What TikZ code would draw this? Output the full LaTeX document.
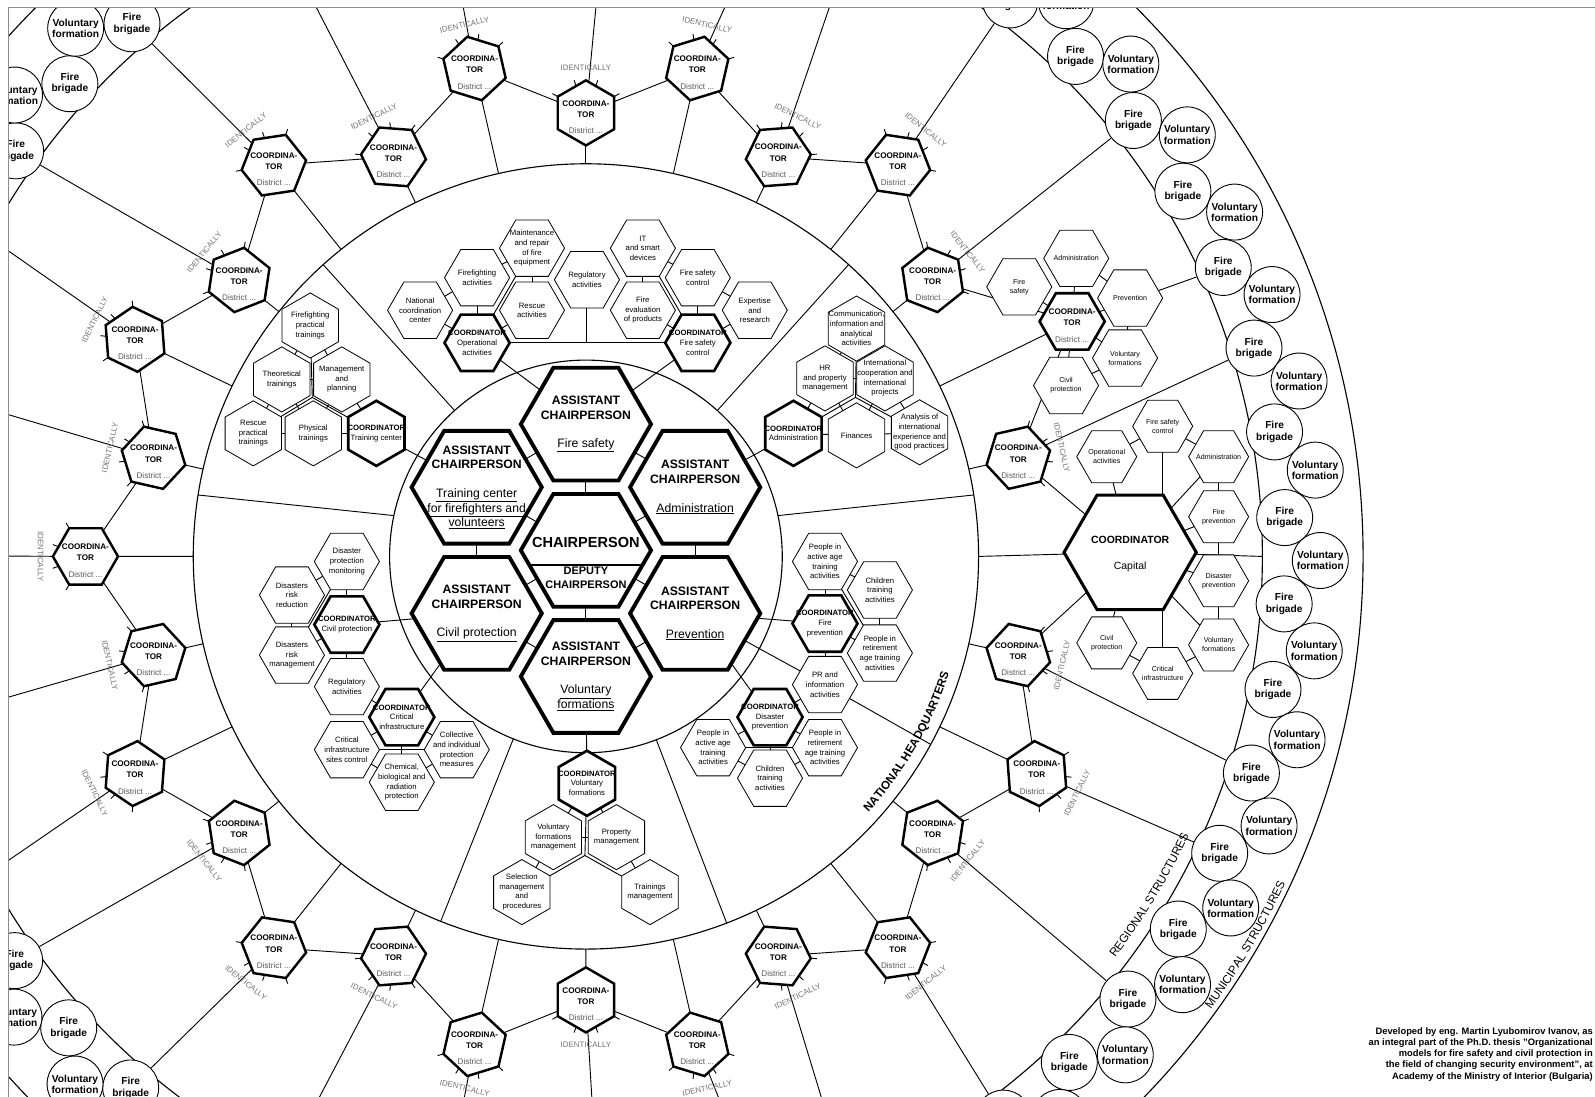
\documentclass[tikz,border=0pt]{standalone}
\usepackage{fontspec}
\setmainfont{Liberation Sans}
\usetikzlibrary{shapes.geometric,backgrounds,calc,decorations.text}

\definecolor{districtgray}{gray}{0.35}
\definecolor{identgray}{gray}{0.45}
\definecolor{framegray}{gray}{0.55}

\tikzset{
  hexa/.style={regular polygon, regular polygon sides=6, draw, fill=white,
    inner sep=0pt, outer sep=0pt},
  bighex/.style={hexa, minimum size=128pt, line width=3.8pt},
  subhex/.style={hexa, minimum size=64pt, line width=0.8pt},
  cordhex/.style={hexa, minimum size=64pt, line width=2.6pt},
  disthex/.style={hexa, minimum size=64pt, line width=2.4pt},
  caphex/.style={hexa, minimum size=59pt, line width=0.8pt},
  pointy/.style={shape border rotate=30},
  bigtxt/.style={font=\fontsize{12}{14.2}\selectfont, align=center},
  subtxt/.style={font=\fontsize{7.6}{9.5}\selectfont, align=center},
  captxt/.style={font=\fontsize{7}{8.8}\selectfont, align=center},
  disttxt/.style={font=\fontsize{8}{11}\selectfont, align=center},
  identtxt/.style={font=\fontsize{7.8}{8}\selectfont, text=identgray, inner sep=0pt},
  munic/.style={circle, draw, fill=white, minimum size=55pt, inner sep=0pt,
    line width=0.9pt, align=center, font=\bfseries\fontsize{10}{11}\selectfont},
  link/.style={line width=0.9pt},
  ring/.style={line width=1.1pt},
}

\begin{document}
\begin{tikzpicture}[x=1pt,y=1pt]
\useasboundingbox (0,0) rectangle (1568,-1078);
\coordinate (C0) at (576,-547);
\coordinate (CH) at (576,-541);

\begin{scope}
\clip (8,-7) rectangle (1568,-1078);

% municipal structures
\foreach \n in {0,...,50} {
  \pgfmathsetmacro\a{-88.73+7.07*\n}
  \node[munic] (fb\n) at ($(C0)+(\a:688)$) {Fire\\brigade};
}
\foreach \n in {0,...,50} {
  \pgfmathsetmacro\a{-92.23+7.07*\n}
  \node[munic] (vf\n) at ($(C0)+(\a:722)$) {Voluntary\\formation};
}

% chairperson and assistants
\node[bighex] (CHR) at (CH) {};
\node[font=\bfseries\fontsize{14.3}{15}\selectfont] (CHRt) at (576,-533) {CHAIRPERSON};
\node[font=\bfseries\fontsize{10.8}{13}\selectfont, align=center] (DEPt) at (576,-568) {DEPUTY\\CHAIRPERSON};
\draw[line width=1.2pt] ($(CHR)+(-55.7,-14.5)$) -- ($(CHR)+(55.7,-14.5)$);
\node[bighex, label={[bigtxt]center:{\textbf{ASSISTANT}\\\textbf{CHAIRPERSON}\\[14pt]\underline{Fire safety}}}] (AFS) at ($(CH)+(90:124)$) {};
\node[bighex, label={[bigtxt]center:{\textbf{ASSISTANT}\\\textbf{CHAIRPERSON}\\[14pt]\underline{Administration}}}] (AADM) at ($(CH)+(30:124)$) {};
\node[bighex, label={[bigtxt]center:{\textbf{ASSISTANT}\\\textbf{CHAIRPERSON}\\[14pt]\underline{Prevention}}}] (APRV) at ($(CH)+(-30:124)$) {};
\node[bighex, label={[bigtxt]center:{\textbf{ASSISTANT}\\\textbf{CHAIRPERSON}\\[14pt]\underline{Voluntary}\\\underline{formations}}}] (AVOL) at ($(CH)+(-90:124)$) {};
\node[bighex, label={[bigtxt]center:{\textbf{ASSISTANT}\\\textbf{CHAIRPERSON}\\[14pt]\underline{Civil protection}}}] (ACIV) at ($(CH)+(210:124)$) {};
\node[bighex, label={[bigtxt]center:{\textbf{ASSISTANT}\\\textbf{CHAIRPERSON}\\[14pt]\underline{Training center}\\\underline{for firefighters and}\\\underline{volunteers}}}] (ATRN) at ($(CH)+(150:124)$) {};

% fire safety sector
\node[subhex, label={[subtxt]center:{National\\coordination\\center}}] (NCC) at (413,-305) {};
\node[subhex, label={[subtxt]center:{Firefighting\\activities}}] (FFA) at (469,-273) {};
\node[subhex, label={[subtxt]center:{Maintenance\\and repair\\of fire\\equipment}}] (MRE) at (523,-244) {};
\node[subhex, label={[subtxt]center:{Rescue\\activities}}] (RSA) at (523,-305) {};
\node[subhex, label={[subtxt]center:{Regulatory\\activities}}] (RGA) at (577,-275) {};
\node[subhex, label={[subtxt]center:{IT\\and smart\\devices}}] (ITS) at (632,-244) {};
\node[subhex, label={[subtxt]center:{Fire\\evaluation\\of products}}] (FEP) at (632,-305) {};
\node[subhex, label={[subtxt]center:{Fire safety\\control}}] (FSC) at (686,-273) {};
\node[subhex, label={[subtxt]center:{Expertise\\and\\research}}] (EXR) at (742,-305) {};
\node[cordhex, label={[subtxt]center:{\textbf{COORDINATOR}\\Operational\\activities}}] (COP) at (469,-337) {};
\node[cordhex, label={[subtxt]center:{\textbf{COORDINATOR}\\Fire safety\\control}}] (CFS) at (686,-337) {};

% training sector
\node[subhex, pointy, label={[subtxt]center:{Firefighting\\practical\\trainings}}] (FPT) at (305,-320) {};
\node[subhex, pointy, label={[subtxt]center:{Theoretical\\trainings}}] (THT) at (277,-373) {};
\node[subhex, pointy, label={[subtxt]center:{Management\\and\\planning}}] (MPL) at (336,-373) {};
\node[subhex, pointy, label={[subtxt]center:{Rescue\\practical\\trainings}}] (RPT) at (249,-426) {};
\node[subhex, pointy, label={[subtxt]center:{Physical\\trainings}}] (PHT) at (308,-426) {};
\node[cordhex, pointy, label={[subtxt]center:{\textbf{COORDINATOR}\\Training center}}] (CTR) at (370,-426) {};

% administration sector
\node[subhex, pointy, label={[subtxt]center:{Communication,\\information and\\analytical\\activities}}] (CIA) at (842,-323) {};
\node[subhex, pointy, label={[subtxt]center:{HR\\and property\\management}}] (HRM) at (811,-372) {};
\node[subhex, pointy, label={[subtxt]center:{International\\cooperation and\\international\\projects}}] (ICP) at (870,-372) {};
\node[cordhex, pointy, label={[subtxt]center:{\textbf{COORDINATOR}\\Administration}}] (CADM) at (780,-426) {};
\node[subhex, pointy, label={[subtxt]center:{Finances}}] (FIN) at (842,-428) {};
\node[subhex, pointy, label={[subtxt]center:{Analysis of\\international\\experience and\\good practices}}] (AIE) at (904,-425) {};

% civil protection sector
\node[subhex, label={[subtxt]center:{Disaster\\protection\\monitoring}}] (DPM) at (341,-552) {};
\node[subhex, label={[subtxt]center:{Disasters\\risk\\reduction}}] (DRR) at (287,-585) {};
\node[cordhex, label={[subtxt]center:{\textbf{COORDINATOR}\\Civil protection}}] (CCIV) at (341,-614) {};
\node[subhex, label={[subtxt]center:{Disasters\\risk\\management}}] (DRM) at (287,-644) {};
\node[subhex, label={[subtxt]center:{Regulatory\\activities}}] (RGC) at (341,-675) {};
\node[cordhex, label={[subtxt]center:{\textbf{COORDINATOR}\\Critical\\infrastructure}}] (CCRI) at (395,-705) {};
\node[subhex, label={[subtxt]center:{Critical\\infrastructure\\sites control}}] (CIS) at (341,-737) {};
\node[subhex, label={[subtxt]center:{Collective\\and individual\\protection\\measures}}] (CIP) at (449,-737) {};
\node[subhex, label={[subtxt]center:{Chemical,\\biological and\\radiation\\protection}}] (CBR) at (395,-769) {};

% prevention sector
\node[subhex, label={[subtxt]center:{People in\\active age\\training\\activities}}] (PAA) at (811,-552) {};
\node[subhex, label={[subtxt]center:{Children\\training\\activities}}] (CTA) at (865,-580) {};
\node[cordhex, label={[subtxt]center:{\textbf{COORDINATOR}\\Fire\\prevention}}] (CFPR) at (811,-613) {};
\node[subhex, label={[subtxt]center:{People in\\retirement\\age training\\activities}}] (PRA) at (865,-642) {};
\node[subhex, label={[subtxt]center:{PR and\\information\\activities}}] (PRI) at (811,-673) {};
\node[cordhex, label={[subtxt]center:{\textbf{COORDINATOR}\\Disaster\\prevention}}] (CDPR) at (757,-705) {};
\node[subhex, label={[subtxt]center:{People in\\active age\\training\\activities}}] (PAB) at (701,-735) {};
\node[subhex, label={[subtxt]center:{People in\\retirement\\age training\\activities}}] (PRB) at (811,-735) {};
\node[subhex, label={[subtxt]center:{Children\\training\\activities}}] (CTB) at (757,-765) {};

% voluntary formations sector
\node[cordhex, pointy, label={[subtxt]center:{\textbf{COORDINATOR}\\Voluntary\\formations}}] (CVOL) at (577,-770) {};
\node[subhex, pointy, label={[subtxt]center:{Voluntary\\formations\\management}}] (VFM) at (544,-823) {};
\node[subhex, pointy, label={[subtxt]center:{Property\\management}}] (PRM) at (606,-823) {};
\node[subhex, pointy, label={[subtxt]center:{Selection\\management\\and\\procedures}}] (SMP) at (513,-877) {};
\node[subhex, pointy, label={[subtxt]center:{Trainings\\management}}] (TRM) at (639,-877) {};

% district coordinators
\foreach \k in {0,...,27} {
  \pgfmathsetmacro\a{90-12.857*\k}
  \pgfmathsetmacro\r{mod(\k,2)==1 ? 492 : 436}
  \coordinate (S\k) at ($(C0)+(\a:386)$);
  \ifnum\k=5 \else \ifnum\k=7 \else
    \node[disthex, shape border rotate=\a, label={[disttxt,yshift=-4pt]center:{\textbf{COORDINA-}\\\textbf{TOR}\\[5pt]\textcolor{districtgray}{District ...}}}] (D\k) at ($(C0)+(\a:\r)$) {};
    \foreach \t in {-60,-20,20,60} {
      \pgfmathtruncatemacro\b{mod(round(\a+\t)+720,360)}
      \draw[line width=0.9pt] (D\k.\b) -- ++(\b:6);
    }
    \pgfmathsetmacro\ri{\r+44}
    \pgfmathsetmacro\rot{sin(\a)>0.01 ? \a-90 : \a+90}
    \node[identtxt, rotate=\rot] (I\k) at ($(C0)+(\a:\ri)$) {IDENTICALLY};
  \fi\fi
}

% district with its structure
\node[cordhex, label={[disttxt,yshift=-4pt]center:{\textbf{COORDINA-}\\\textbf{TOR}\\[5pt]\textcolor{districtgray}{District ...}}}] (D5) at (1054,-316) {};
\node[subhex, label={[captxt]center:{Administration}}] (UAD) at (1058,-254) {};
\node[subhex, label={[captxt]center:{Fire\\safety}}] (UFS) at (1002,-282) {};
\node[subhex, label={[captxt]center:{Prevention}}] (UPV) at (1111,-293) {};
\node[subhex, label={[captxt]center:{Voluntary\\formations}}] (UVF) at (1106,-352) {};
\node[subhex, label={[captxt]center:{Civil\\protection}}] (UCP) at (1048,-379) {};

% capital
\node[hexa, minimum size=130pt, line width=3pt, label={[font=\fontsize{10.3}{13.5}\selectfont, align=center, yshift=-2pt]center:{\textbf{COORDINATOR}\\[12pt]Capital}}] (D7) at (1111,-543) {};
\node[caphex, label={[captxt]center:{Operational\\activities}}] (COA) at (1088,-449) {};
\node[caphex, label={[captxt]center:{Fire safety\\control}}] (CFSC) at (1143,-419) {};
\node[caphex, label={[captxt]center:{Administration}}] (CADM2) at (1198,-449) {};
\node[caphex, label={[captxt]center:{Fire\\prevention}}] (CFP2) at (1198,-508) {};
\node[caphex, label={[captxt]center:{Disaster\\prevention}}] (CDP2) at (1198,-571) {};
\node[caphex, label={[captxt]center:{Voluntary\\formations}}] (CVF2) at (1198,-634) {};
\node[caphex, label={[captxt]center:{Critical\\infrastructure}}] (CCI2) at (1143,-662) {};
\node[caphex, label={[captxt]center:{Civil\\protection}}] (CCP2) at (1088,-632) {};

% ring titles
\path[decorate, decoration={text along path, text align=center,
  text={|\bfseries\fontsize{11.5}{12}\selectfont|NATIONAL HEADQUARTERS}}]
  ($(C0)+(-46:375)$) arc[start angle=-46, end angle=-14, radius=375];
\path[decorate, decoration={text along path, text align=center,
  text={|\fontsize{11.5}{12}\selectfont|REGIONAL STRUCTURES}}]
  ($(C0)+(-42:653)$) arc[start angle=-42, end angle=-20, radius=653];
\path[decorate, decoration={text along path, text align=center,
  text={|\fontsize{11.5}{12}\selectfont|MUNICIPAL STRUCTURES}}]
  ($(C0)+(-41:759)$) arc[start angle=-41, end angle=-20, radius=759];
\end{scope}

\begin{pgfonlayer}{background}
\begin{scope}
\clip (8,-7) rectangle (1568,-1078);
\foreach \rr in {193,386,665,764} \draw[ring] (C0) circle[radius=\rr];
% sector lines of the national ring
\foreach \a/\b in {132/132,48/48,168/171,12/9,-69/-69,-111.7/-111.7}
  \draw[link] ($(C0)+(\a:193)$) -- ($(C0)+(\b:386)$);
\draw[link] (PRI) -- ($(C0)+(-28.6:386)$);
% core
\foreach \p/\q in {CHR/AFS,CHR/AADM,CHR/APRV,CHR/AVOL,CHR/ACIV,CHR/ATRN,
  AFS/AADM,AADM/APRV,APRV/AVOL,AVOL/ACIV,ACIV/ATRN,ATRN/AFS,
  AFS/COP,AFS/CFS,ATRN/CTR,AADM/CADM,ACIV/CCIV,ACIV/CCRI,
  APRV/CFPR,APRV/PRI,APRV/CDPR,AVOL/CVOL}
  \draw[link] (\p) -- (\q);
% sectors
\foreach \p/\q in {NCC/FFA,NCC/COP,FFA/COP,FFA/MRE,MRE/RSA,RSA/COP,MRE/COP,
  EXR/FSC,EXR/CFS,FSC/CFS,FSC/ITS,ITS/FEP,FEP/CFS,ITS/CFS,COP/CFS,
  FPT/THT,FPT/MPL,THT/MPL,THT/RPT,THT/PHT,MPL/PHT,MPL/CTR,RPT/PHT,PHT/CTR,
  CIA/HRM,CIA/ICP,HRM/ICP,HRM/CADM,HRM/FIN,ICP/FIN,ICP/AIE,CADM/FIN,FIN/AIE,
  DPM/DRR,DPM/CCIV,DRR/DRM,DRM/CCIV,CCIV/RGC,RGC/CCRI,CCRI/CIS,CCRI/CIP,
  CCRI/CBR,CIS/CBR,CBR/CIP,DPM/DRM,CIS/CIP,
  PAA/CTA,PAA/CFPR,CTA/PRA,CFPR/PRA,CFPR/PRI,PRI/CDPR,CDPR/PAB,CDPR/PRB,
  CDPR/CTB,PAB/CTB,PRB/CTB,PAA/PRA,PAB/PRB,
  CVOL/VFM,CVOL/PRM,VFM/PRM,VFM/SMP,PRM/TRM}
  \draw[link] (\p) -- (\q);
\draw[link] (RGA) -- (RGA |- COP);
\coordinate (J1) at (307,-390.7);
\coordinate (J2) at (841,-390.7);
\coordinate (J3) at (575,-841);
\draw[link] (FPT) -- (J1) -- (CTR);
\draw[link] (J1) -- (RPT);
\draw[link] (CIA) -- (J2) -- (CADM);
\draw[link] (J2) -- (AIE);
\draw[link] (CVOL) -- (J3) -- (SMP);
\draw[link] (J3) -- (TRM);
% regional structures
\foreach \p/\q in {D7/COA,COA/CFSC,CFSC/CADM2,CADM2/D7,CADM2/CFP2,CFP2/D7,
  CFP2/CDP2,CDP2/D7,CDP2/CVF2,CVF2/D7,CVF2/CCI2,CCI2/CCP2,CCP2/D7,
  D5/UAD,D5/UFS,D5/UCP,D5/UVF,UAD/UPV,UPV/UVF,UVF/UCP}
  \draw[link] (\p) -- (\q);
\draw[link] (CFSC) -- (CFSC |- D7.north);
\draw[link] (CCI2) -- (CCI2 |- D7.south);
\foreach \k in {0,...,27} {
  \pgfmathsetmacro\a{90-12.857*\k}
  \pgfmathsetmacro\th{\a<-90 ? \a+360 : \a}
  \pgfmathtruncatemacro\n{round((\th+88.73)/7.07)}
  \ifnum\k=6 \pgfmathtruncatemacro\n{\n+1}\fi
  \ifnum\k=8 \pgfmathtruncatemacro\n{\n-1}\fi
  \pgfmathtruncatemacro\kk{mod(\k+1,28)}
  \draw[link] (S\k) -- (D\k);
  \draw[link] (D\k) -- (D\kk);
  \ifnum\k=7
    \draw[link] (D\k) -- ($(C0)+(0:665)$);
  \else
    \draw[link] (D\k) -- (fb\n);
  \fi
}
\end{scope}
\end{pgfonlayer}

% frame and note
\draw[line width=1pt, framegray] (8,-1078) -- (8,-7) -- (1568,-7);
\node[anchor=north east, align=right, inner sep=0pt,
  font=\bfseries\fontsize{9.2}{11}\selectfont] (credit) at (1566,-1010)
  {Developed by eng. Martin Lyubomirov Ivanov, as\\an integral part of the Ph.D. thesis "Organizational\\models for fire safety and civil protection in\\the field of changing security environment", at\\Academy of the Ministry of Interior (Bulgaria)};
\end{tikzpicture}
\end{document}
